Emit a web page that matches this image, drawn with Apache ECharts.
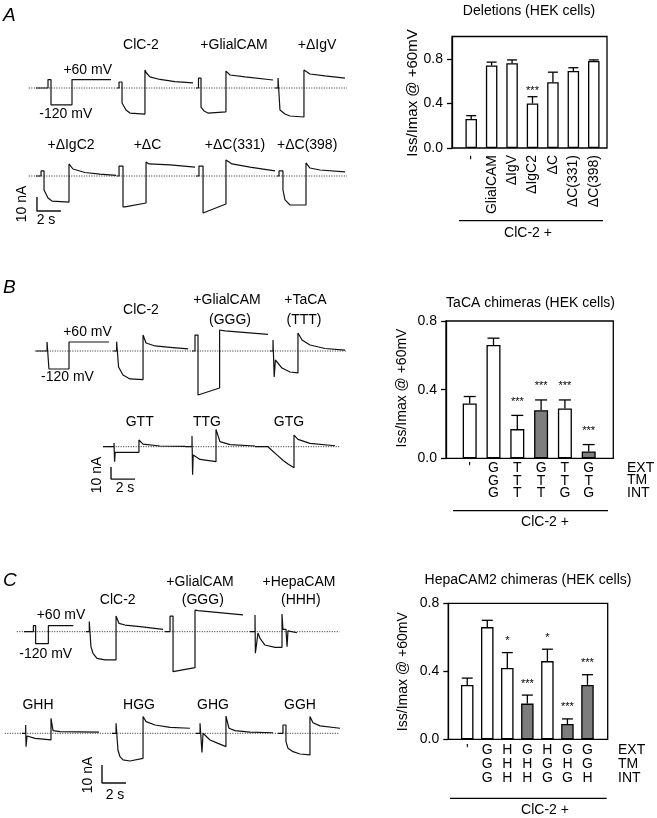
<!DOCTYPE html>
<html>
<head>
<meta charset="utf-8">
<script src="https://cdn.jsdelivr.net/npm/echarts@6/dist/echarts.min.js"></script>
<style>
  html, body { margin: 0; padding: 0; background: #fff; }
  #main { width: 657px; height: 818px; }
</style>
</head>
<body>
<div id="main"></div>
<script>
// ---- current traces: [time (s), current (nA)], protocol in mV ----
const protoA = [[3.0, 0], [4.0, 0], [4.0, 60], [4.25, 60], [4.25, -120], [6.0, -120], [6.0, 60], [9.25, 60]];
const trA_ClC2 = [[9.75, 0], [9.92, 0], [9.92, 4.3], [10.17, 4.3], [10.17, -10.7], [10.5, -15.7], [10.83, -17.9], [12.08, -18.6], [12.08, 12.9], [12.2, 10.7], [12.5, 7.9], [13.33, 6.1], [14.58, 4.6], [16.08, 3.6]];
const trA_Glial = [[16.33, 0], [16.54, 0], [16.54, 7.1], [16.75, 7.1], [16.75, -13.6], [17.0, -16.4], [17.33, -17.9], [18.83, -17.1], [18.83, 12.1], [19.17, 9.3], [20.42, 7.9], [22.75, 5.7]];
const trA_IgV = [[22.92, 0], [23.17, 0], [23.17, 7.1], [23.33, 7.1], [23.33, -15.7], [23.75, -18.6], [24.17, -20], [25.33, -20.7], [25.33, 12.9], [25.83, 10], [27.08, 8.6], [28.75, 7.1]];
const trA_IgC2 = [[3.0, 0], [3.42, 0], [3.42, 3.6], [3.67, 3.6], [3.67, -10], [4.0, -15.7], [4.33, -17.9], [5.75, -18.6], [5.75, 8.6], [6.08, 5.0], [7.08, 2.5], [8.33, 1.4], [9.67, 0.4]];
const trA_dC = [[9.75, 0], [9.92, 0], [9.92, 7.1], [10.25, 7.1], [10.25, -22.1], [10.42, -22.1], [12.17, -19.3], [12.17, 10], [12.42, 8.6], [14.17, 7.9], [16.25, 6.4]];
const trA_dC331 = [[16.33, 0], [16.58, 0], [16.58, 7.1], [16.92, 7.1], [16.92, -26.4], [18.83, -20], [18.83, 11.4], [19.33, 8.6], [20.83, 6.4], [22.92, 3.6]];
const trA_dC398 = [[23.08, 0], [23.25, 0], [23.25, 3.6], [23.58, 3.6], [23.58, -10], [23.75, -17.1], [24.17, -20.7], [25.5, -20.7], [25.5, 9.3], [25.83, 5.7], [26.67, 4.3], [28.75, 2.9]];
const scaleA = [[3.08, -15], [3.08, -25], [5.08, -25]];

const protoB = [[3.0, 0], [3.92, 0], [3.92, 60], [4.08, 60], [4.08, -120], [5.75, -120], [5.75, 60], [9.08, 60]];
const trB_ClC2 = [[9.42, 0], [9.72, 0], [9.72, 7.8], [9.88, 7.8], [9.88, -13.3], [10.25, -20], [10.83, -23.3], [11.92, -23.8], [11.92, 13.3], [12.17, 6.7], [12.92, 4.2], [14.17, 3.1], [15.67, 1.7]];
const trB_Glial = [[16.0, 0], [16.25, 0], [16.25, 13.3], [16.5, 13.3], [16.5, -36.7], [18.3, -30.8], [18.3, 17.5], [18.75, 16.7], [22.33, 13.9]];
const trB_TaCA = [[22.5, 0], [22.75, 0], [22.75, 9.2], [22.85, 9.2], [22.85, -21.7], [22.95, -7.5], [23.5, -14.2], [24.17, -17.5], [24.83, -18.3], [24.83, 15], [25.17, 9.2], [25.83, 5], [27.08, 2.1], [28.75, 0.8]];
const trB_GTT = [[8.6, 0], [9.5, 0], [9.5, 3.1], [9.55, -12.5], [9.6, -4.7], [11.58, -4.7], [11.58, 5.6], [11.92, 2.2], [13.33, 0.6], [15.42, 0.2]];
const trB_TTG = [[15.42, 0], [16.0, 0], [16.0, 8.9], [16.05, -23.3], [16.1, -6.9], [16.67, -10.6], [18.0, -12.5], [18.0, 14.4], [18.33, 4.2], [19.17, 1.7], [21.25, 0.6]];
const trB_GTG = [[21.25, 0], [22.33, 0], [22.6, -2.5], [23.1, -7], [23.6, -11.5], [24.0, -14.5], [24.5, -17.5], [24.5, 9.7], [24.83, 6.1], [25.83, 2.8], [27.92, 0.8]];
const scaleB = [[9.25, -17], [9.25, -27], [11.25, -27]];

const protoC = [[2.0, 0], [2.78, 0], [2.78, 60], [2.97, 60], [2.97, -120], [4.03, -120], [4.03, 60], [6.11, 60]];
const trC_ClC2 = [[7.17, 0], [7.44, 0], [7.44, 5.6], [7.58, 5.6], [7.58, -8.3], [7.75, -12], [8.08, -14.8], [8.75, -15.7], [9.67, -15.7], [9.67, 8.7], [9.92, 4.6], [10.42, 3.7], [11.67, 2.8], [13.58, 1.3]];
const trC_Glial = [[13.75, 0], [14.17, 0], [14.17, 8.7], [14.42, 8.7], [14.42, -22.2], [16.25, -20], [16.25, 12], [16.5, 11.7], [20.25, 9.3]];
const trC_Hepa = [[20.83, 0], [21.25, 0], [21.25, 9.3], [21.28, -11.9], [21.5, -0.7], [21.67, -3.7], [22.08, -7.4], [22.92, -8.7], [23.5, -8.7], [23.5, 9.8], [23.58, 1.3], [23.83, 1.3], [23.92, -8.3], [24.0, 0.5], [24.75, -0.6]];
const trC_GHH = [[1.83, 0], [2.14, 0], [2.14, 4.6], [2.17, -7.4], [2.25, -1.5], [2.92, -2.8], [4.25, -3.7], [4.25, 8.3], [4.42, 1.5], [5.0, 0.9], [8.25, 0.6]];
const trC_HGG = [[9.33, 0], [9.67, 0], [9.67, 5.6], [9.83, 5.6], [9.83, -9.3], [10.0, -13], [10.25, -14.8], [10.83, -15.4], [11.92, -13.9], [11.92, 9.3], [12.17, 6.5], [12.92, 4.6], [14.17, 3.3], [15.83, 2.8]];
const trC_GHG = [[16.33, 0], [16.67, 0], [16.67, 5.6], [16.83, 5.6], [16.83, -10.7], [16.92, 0], [17.5, -3.7], [18.17, -5.6], [18.83, -7.4], [18.83, 9.6], [19.08, 2.8], [19.58, 1.5], [20.83, 0.7], [22.75, 0.3]];
const trC_GGH = [[23.17, 0], [23.58, 0], [23.58, 4.6], [23.83, 4.6], [23.83, -4.6], [24.0, -8.3], [24.42, -10.2], [25.0, -11.5], [25.83, -12], [25.83, 9.3], [26.08, 5.9], [26.67, 4.1], [28.33, 2.8]];
const scaleC = [[8.5, -17.6], [8.5, -27.6], [10.5, -27.6]];

// ---- bar charts ----
const catsA = ['-', 'GlialCAM', 'ΔIgV', 'ΔIgC2', 'ΔC', 'ΔC(331)', 'ΔC(398)'];
const meanA = [0.26, 0.74, 0.76, 0.40, 0.59, 0.69, 0.78];
const semA = [0.03, 0.03, 0.03, 0.06, 0.09, 0.03, 0.01];
const starsA = ['', '', '', '***', '', '', ''];
const grayA = [0, 0, 0, 0, 0, 0, 0];

const extB = ["'", 'G', 'T', 'G', 'T', 'G'];
const tmB = ['', 'G', 'T', 'T', 'T', 'T'];
const intB = ['', 'G', 'T', 'T', 'G', 'G'];
const meanB = [0.32, 0.66, 0.17, 0.28, 0.29, 0.04];
const semB = [0.04, 0.04, 0.08, 0.06, 0.05, 0.04];
const starsB = ['', '', '***', '***', '***', '***'];
const grayB = [0, 0, 0, 1, 0, 1];

const extC = ["'", 'G', 'H', 'G', 'H', 'G', 'G'];
const tmC = ['', 'G', 'H', 'H', 'G', 'H', 'G'];
const intC = ['', 'G', 'H', 'H', 'G', 'G', 'H'];
const meanC = [0.32, 0.66, 0.42, 0.21, 0.46, 0.09, 0.32];
const semC = [0.04, 0.04, 0.09, 0.05, 0.07, 0.03, 0.06];
const starsC = ['', '', '*', '***', '*', '***', '***'];
const grayC = [0, 0, 0, 1, 0, 1, 1];

const yTicks = [0, 0.4, 0.8];
const yName = 'Iss/Imax @ +60mV';

const FONT = 'Liberation Sans';
const grid = [], xAxis = [], yAxis = [], series = [], graphic = [];

// trace rows: base = pixel y of 0 nA, s = px per nA, k = mV per nA on the protocol axis
const rows = [
  { base: 88, s: 1.4, k: 10, dots: [2.4, 28.9], traces: [trA_ClC2, trA_Glial, trA_IgV], proto: protoA },
  { base: 176, s: 1.4, k: 10, dots: [2.4, 28.9], traces: [trA_IgC2, trA_dC, trA_dC331, trA_dC398], bar: scaleA },
  { base: 351, s: 1.2, k: 8, dots: [2.9, 28.9], traces: [trB_ClC2, trB_Glial, trB_TaCA], proto: protoB },
  { base: 446.7, s: 1.2, k: 8, dots: [8.6, 28.3], traces: [trB_GTT, trB_TTG, trB_GTG], bar: scaleB },
  { base: 631.7, s: 1.8, k: 18, dots: [1.4, 28.3], traces: [trC_ClC2, trC_Glial, trC_Hepa], proto: protoC },
  { base: 733.3, s: 1.8, k: 18, dots: [0.4, 28.3], traces: [trC_GHH, trC_HGG, trC_GHG, trC_GGH], bar: scaleC },
];

const lineSeries = (xi, yi, data, style) => ({
  type: 'line', xAxisIndex: xi, yAxisIndex: yi, data, symbol: 'none', silent: true,
  lineStyle: style, z: 2,
});

rows.forEach(r => {
  const gi = grid.length;
  grid.push({ left: 0, top: r.base - 25 * r.s, width: 348, height: 70 * r.s });
  xAxis.push({ gridIndex: gi, type: 'value', min: 0, max: 29, show: false });
  const yi = yAxis.length;
  yAxis.push({ gridIndex: gi, type: 'value', min: -45, max: 25, show: false });
  yAxis.push({ gridIndex: gi, type: 'value', min: -45 * r.k, max: 25 * r.k, show: false });
  series.push(lineSeries(gi, yi, [[r.dots[0], 0], [r.dots[1], 0]], { color: '#222', width: 1, type: [1, 1.5] }));
  r.traces.forEach(t => series.push(lineSeries(gi, yi, t, { color: '#111', width: 1.2 })));
  if (r.proto) series.push(lineSeries(gi, yi + 1, r.proto, { color: '#111', width: 1.2 }));
  if (r.bar) series.push(lineSeries(gi, yi, r.bar, { color: '#111', width: 1.4 }));
});

function barChart(c) {
  const fg = grid.length;
  grid.push({ left: c.left, top: c.top, width: c.width, height: c.height, show: true,
    borderColor: '#000', borderWidth: 1.3, backgroundColor: 'transparent' });
  xAxis.push({ gridIndex: fg, type: 'value', min: 0, max: 1, show: false });
  yAxis.push({
    gridIndex: fg, type: 'value', min: 0, max: c.ymax,
    axisLine: { show: true, lineStyle: { color: '#000', width: 1.3 } },
    axisTick: { show: true, length: 5, customValues: yTicks, lineStyle: { color: '#000', width: 1.3 } },
    axisLabel: { customValues: yTicks, formatter: v => v.toFixed(1), fontSize: 14, color: '#000', margin: c.labelMargin, fontFamily: FONT },
    splitLine: { show: false },
  });
  const bg = grid.length;
  grid.push({ left: c.barLeft, top: c.top, width: c.barSpan, height: c.height });
  xAxis.push({
    gridIndex: bg, type: 'category', data: c.cats,
    axisLine: { show: false }, axisTick: { show: false },
    axisLabel: { interval: 0, rotate: c.rotate || 0, fontSize: 14, color: '#000', margin: c.catMargin,
      lineHeight: c.lineHeight, fontFamily: FONT },
  });
  const yb = yAxis.length;
  yAxis.push({ gridIndex: bg, type: 'value', min: 0, max: c.ymax, show: false });
  series.push({
    type: 'bar', xAxisIndex: bg, yAxisIndex: yb, barWidth: c.barW, silent: true,
    data: c.means.map((m, i) => ({ value: m, itemStyle: { color: c.gray[i] ? '#7d7d7d' : '#fff' } })),
    itemStyle: { borderColor: '#000', borderWidth: 1.3 },
  });
  series.push({
    type: 'custom', xAxisIndex: bg, yAxisIndex: yb, silent: true, z: 3,
    data: c.means.map((m, i) => [i, m, c.sems[i]]),
    encode: { x: 0, y: 1 },
    renderItem: (params, api) => {
      const i = api.value(0), m = api.value(1), e = api.value(2);
      const p0 = api.coord([i, m]);
      const p1 = api.coord([i, m + e]);
      const st = { stroke: '#000', lineWidth: 1.3 };
      const children = [
        { type: 'line', shape: { x1: p0[0], y1: p0[1], x2: p1[0], y2: p1[1] }, style: st },
        { type: 'line', shape: { x1: p1[0] - c.cap, y1: p1[1], x2: p1[0] + c.cap, y2: p1[1] }, style: st },
      ];
      const star = c.stars[params.dataIndex];
      if (star) {
        children.push({ type: 'text', x: p1[0], y: p1[1] - c.starGap + 2.5,
          style: { text: star, fill: '#000', font: '11px "Liberation Sans"', align: 'center', verticalAlign: 'middle' } });
      }
      return { type: 'group', children };
    },
  });
}

barChart({ left: 452, top: 36.5, width: 155, height: 111.5, ymax: 1.0, labelMargin: 9,
  barLeft: 461, barSpan: 143, cats: catsA, rotate: 90, catMargin: 7, lineHeight: 14, barW: 11.5,
  means: meanA, sems: semA, stars: starsA, gray: grayA, cap: 5, starGap: 8 });
barChart({ left: 446, top: 321, width: 167.3, height: 137.3, ymax: 0.8, labelMargin: 9,
  barLeft: 457.8, barSpan: 142.8, cats: extB.map((e, i) => [e, tmB[i], intB[i]].filter(Boolean).join('\n')),
  catMargin: 4, lineHeight: 12.5, barW: 14, means: meanB, sems: semB, stars: starsB, gray: grayB, cap: 6, starGap: 16 });
barChart({ left: 448.3, top: 603.3, width: 159.4, height: 136, ymax: 0.8, labelMargin: 9,
  barLeft: 457.2, barSpan: 140.3, cats: extC.map((e, i) => [e, tmC[i], intC[i]].filter(Boolean).join('\n')),
  catMargin: 4, lineHeight: 14, barW: 12.5, means: meanC, sems: semC, stars: starsC, gray: grayC, cap: 5.5, starGap: 14 });

// ---- text annotations ----
const T = (text, x, y, o = {}) => graphic.push({
  type: 'text', x, y, rotation: o.rot || 0, silent: true,
  style: { text, fill: '#000', font: (o.italic ? 'italic ' : '') + (o.size || 14) + 'px "' + FONT + '"',
    align: o.align || 'center', verticalAlign: 'middle' },
});
const L = (x1, y1, x2, y2) => graphic.push({ type: 'line', silent: true,
  shape: { x1, y1, x2, y2 }, style: { stroke: '#000', lineWidth: 1.3 } });

T('A', 3, 16, { italic: true, size: 19, align: 'left' });
T('B', 3, 288, { italic: true, size: 19, align: 'left' });
T('C', 3, 581, { italic: true, size: 19, align: 'left' });

T('ClC-2', 141, 45); T('+GlialCAM', 234, 45); T('+ΔIgV', 317, 45);
T('+60 mV', 87.7, 70); T('-120 mV', 65.8, 114);
T('+ΔIgC2', 71, 145); T('+ΔC', 147.5, 145); T('+ΔC(331)', 235, 145); T('+ΔC(398)', 277, 145, { align: 'left' });
T('10 nA', 22, 204, { rot: Math.PI / 2 }); T('2 s', 46, 220);

T('ClC-2', 141, 310); T('+GlialCAM', 227, 300); T('(GGG)', 230, 320); T('+TaCA', 305.5, 300); T('(TTT)', 304, 320);
T('+60 mV', 87.5, 332); T('-120 mV', 67.5, 377);
T('GTT', 139.7, 421.7); T('TTG', 207, 421.7); T('GTG', 289, 421.7);
T('10 nA', 96.7, 475, { rot: Math.PI / 2 }); T('2 s', 125, 488);

T('ClC-2', 117.7, 600); T('+GlialCAM', 200, 581.7); T('(GGG)', 202.8, 600); T('+HepaCAM', 299, 581.7); T('(HHH)', 300.8, 600);
T('+60 mV', 61, 615); T('-120 mV', 45.7, 654);
T('GHH', 38, 705); T('HGG', 139, 705); T('GHG', 213, 705); T('GGH', 300, 705);
T('10 nA', 88.3, 775, { rot: Math.PI / 2 }); T('2 s', 115, 795);

T('Deletions (HEK cells)', 529, 11);
T('TaCA chimeras (HEK cells)', 530.5, 303);
T('HepaCAM2 chimeras (HEK cells)', 528, 580);
T(yName, 413, 93, { rot: Math.PI / 2, size: 15 });
T(yName, 402, 388, { rot: Math.PI / 2 });
T(yName, 403, 671.7, { rot: Math.PI / 2 });
T('EXT', 627, 468, { align: 'left' }); T('TM', 627, 480.5, { align: 'left' }); T('INT', 627, 493, { align: 'left' });
T('EXT', 618, 750, { align: 'left' }); T('TM', 618, 764, { align: 'left' }); T('INT', 618, 778, { align: 'left' });

L(459, 220.7, 603, 220.7); T('ClC-2 +', 528, 233);
L(453, 510.7, 608, 510.7); T('ClC-2 +', 545, 521.7);
L(450, 798.3, 606.7, 798.3); T('ClC-2 +', 545, 810);

const chart = echarts.init(document.getElementById('main'), null, { renderer: 'canvas' });
chart.setOption({
  animation: false,
  backgroundColor: '#fff',
  textStyle: { fontFamily: FONT },
  grid, xAxis, yAxis, series, graphic,
});
</script>
</body>
</html>
